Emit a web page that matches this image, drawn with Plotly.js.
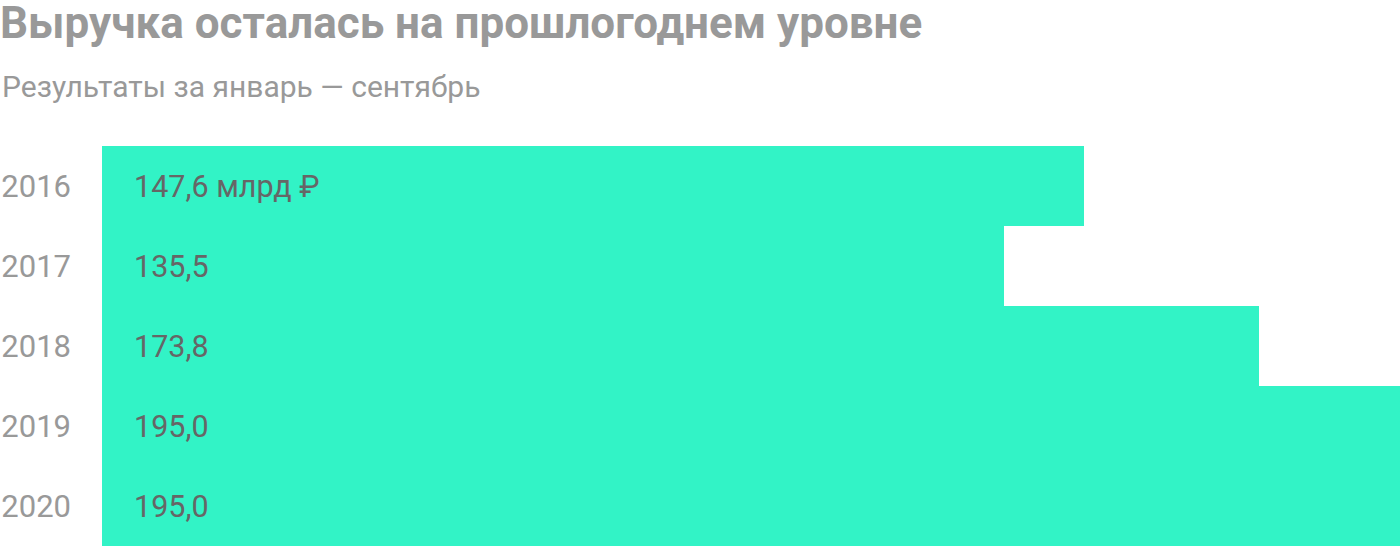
<!DOCTYPE html>
<html>
<head>
<meta charset="utf-8">
<script src="https://cdn.plot.ly/plotly-3.0.1.min.js"></script>
<style>
  html, body { margin: 0; padding: 0; background: #fff; }
  #chart { width: 1400px; height: 548px; }
</style>
</head>
<body>
<div id="chart"></div>
<script>
const years = ['2016', '2017', '2018', '2019', '2020']
const revenue = [147.6, 135.5, 173.8, 195.0, 195.0]
const valueLabels = ['147,6 млрд ₽', '135,5', '173,8', '195,0', '195,0']

const font = 'Roboto, "Noto Sans", sans-serif'
const grey = '#999999'
const rows = years.map((_, i) => i)

const annotations = rows.map(i => ({
  x: 0,
  y: i,
  xref: 'x',
  yref: 'y',
  text: valueLabels[i],
  showarrow: false,
  xanchor: 'left',
  yanchor: 'middle',
  xshift: 30,
  font: { family: font, size: 30.5, color: '#666666' }
}))

annotations.push({
  x: -102 / 1298,
  y: (546 - 86) / 400,
  xref: 'paper',
  yref: 'paper',
  text: 'Результаты за январь — сентябрь',
  showarrow: false,
  xanchor: 'left',
  yanchor: 'middle',
  font: { family: font, size: 30, color: grey }
})

Plotly.newPlot('chart', [
  {
    type: 'bar',
    orientation: 'h',
    x: revenue,
    y: rows,
    width: 1,
    marker: { color: '#32f3c6' },
    hoverinfo: 'none'
  }
], {
  width: 1400,
  height: 548,
  margin: { l: 102, r: 0, t: 146, b: 2, pad: 0 },
  paper_bgcolor: '#ffffff',
  plot_bgcolor: '#ffffff',
  bargap: 0,
  showlegend: false,
  title: {
    text: '<b>Выручка осталась на прошлогоднем уровне</b>',
    x: 0,
    xref: 'container',
    xanchor: 'left',
    y: 1,
    yref: 'container',
    yanchor: 'top',
    pad: { t: 7, l: 0 },
    font: { family: font, size: 44, color: grey }
  },
  xaxis: {
    range: [0, 195],
    showgrid: false,
    zeroline: false,
    showticklabels: false,
    fixedrange: true
  },
  yaxis: {
    range: [4.5, -0.5],
    tickvals: rows,
    ticktext: years,
    showgrid: false,
    zeroline: false,
    ticks: '',
    ticklabelstandoff: 30,
    tickfont: { family: font, size: 31, color: grey },
    fixedrange: true
  },
  annotations: annotations
}, { displayModeBar: false, staticPlot: true })
</script>
</body>
</html>
